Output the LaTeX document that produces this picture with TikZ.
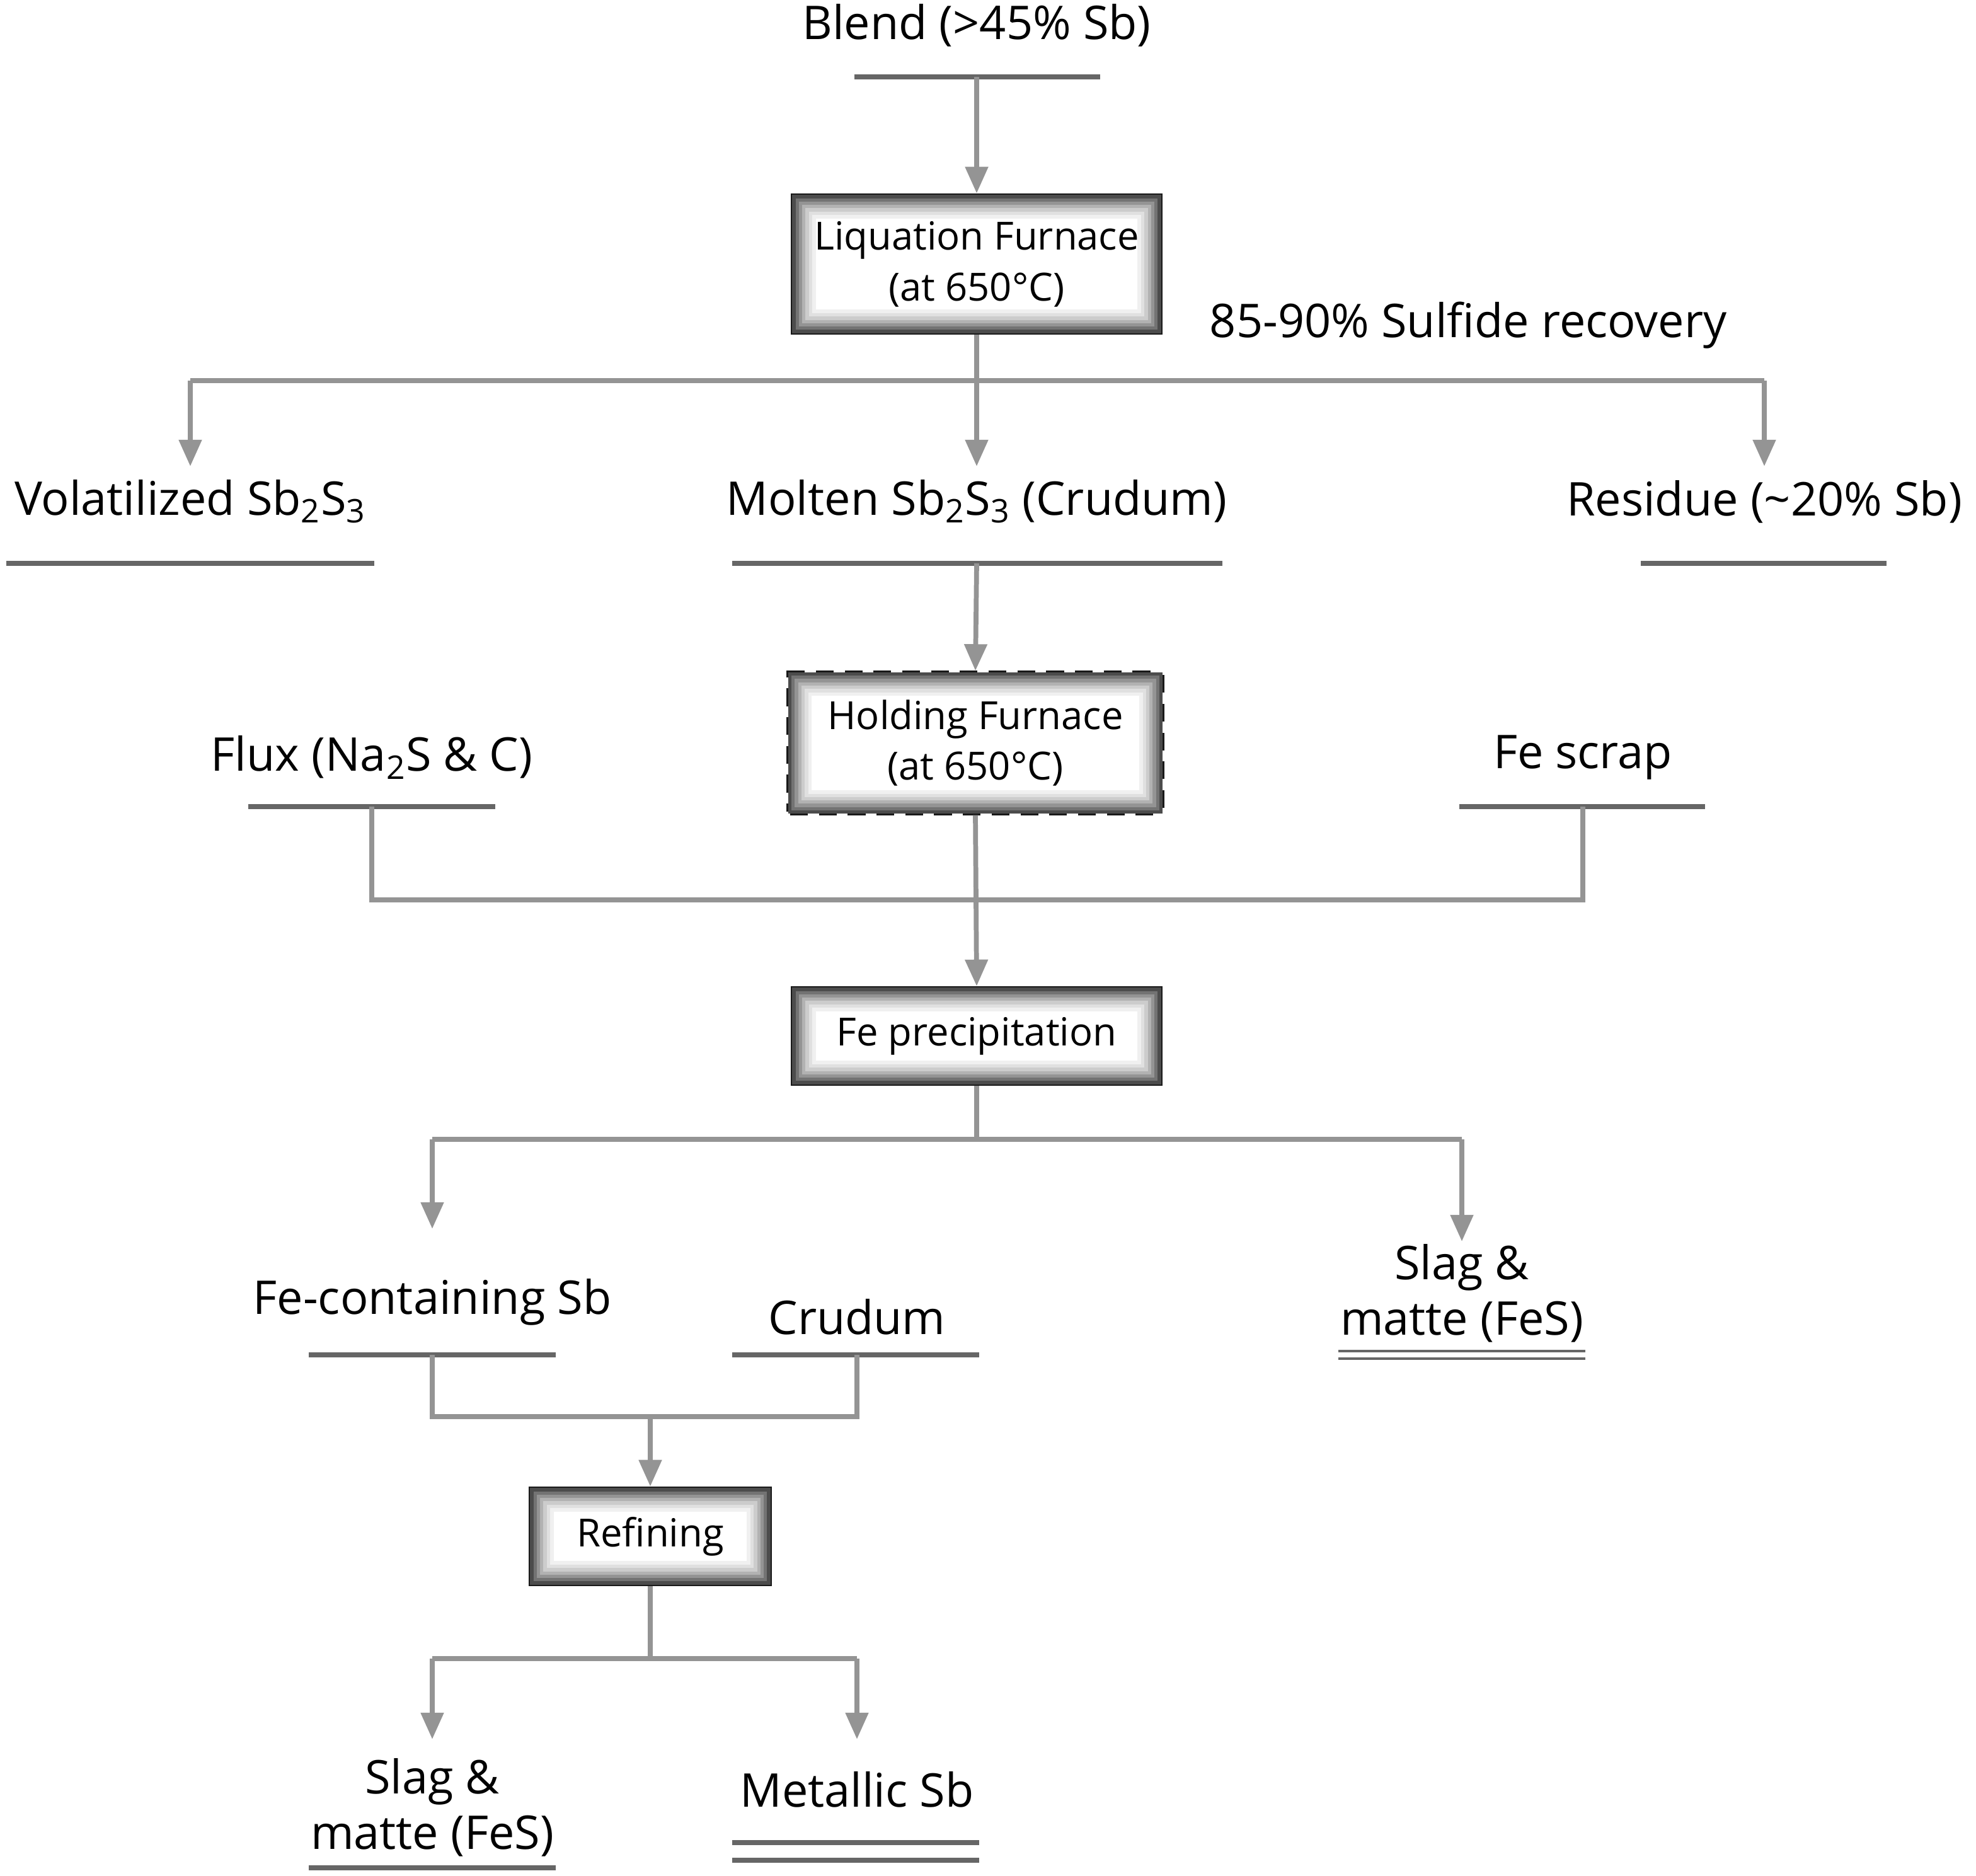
\documentclass[tikz,border=0pt]{standalone}
\usepackage{fontspec}
\setmainfont{Open Sans}
\usetikzlibrary{arrows.meta}
\newcommand{\glowbox}[1]{%
  \foreach \i/\c in {1/70,2/55,3/42,4/30,5/20,6/12,7/6}{%
    \draw[draw=black!\c,line width=1.6pt]
      ([xshift=\i*1.5pt,yshift=-\i*1.5pt]#1.north west) rectangle ([xshift=-\i*1.5pt,yshift=\i*1.5pt]#1.south east);}}
\begin{document}
\begin{tikzpicture}[x=0.02cm,y=-0.02cm,
  conn/.style={draw=gray!95!black!80,line width=2.2pt},
  arr/.style={conn,-{Triangle[length=12pt,width=10pt]}},
  ul/.style={draw=gray!80!black,line width=2.2pt},
  lab/.style={font=\fontsize{21}{25}\selectfont,inner sep=0pt,align=center},
  box/.style={draw=black!90,line width=1.8pt,fill=white,font=\fontsize{17.5}{23}\selectfont,align=center,inner sep=0pt},
  dbox/.style={box,dash pattern=on 8pt off 5pt,line width=3.2pt}]
\useasboundingbox (0,0) rectangle (1568,1488);
% top
\node[lab] (blend) at (775,20) {Blend (>45\% Sb)};
\draw[ul] (678,61) -- (873,61);
\coordinate (blendb) at (775,61);
\node[box,minimum width=5.84cm,minimum height=2.18cm] (liq) at (775,209.5) {Liquation Furnace\\(at 650°C)};
\glowbox{liq}
\draw[arr] (blendb) -- (liq.north);
\node[lab] (rec) at (1165,258) {85-90\% Sulfide recovery};
\coordinate (s1) at (775,302);
\coordinate (s1l) at (151,302);
\coordinate (s1r) at (1400,302);
\node[lab] (vol) at (151,398) {Volatilized Sb\textsubscript{2}S\textsubscript{3}};
\node[lab] (mol) at (775,398) {Molten Sb\textsubscript{2}S\textsubscript{3} (Crudum)};
\node[lab] (res) at (1400,398) {Residue (\textasciitilde20\% Sb)};
\draw[conn] (liq.south) -- (s1);
\draw[conn] (s1l) -- (s1r);
\draw[arr] (s1l) -- (151,370);
\draw[arr] (s1) -- (775,370);
\draw[arr] (s1r) -- (1400,370);
\draw[ul] (5,447) -- (297,447);
\draw[ul] (581,447) -- (970,447);
\draw[ul] (1302,447) -- (1497,447);
\coordinate (molb) at (775,447);
\node[dbox,minimum width=5.88cm,minimum height=2.18cm] (hold) at (774,589.5) {Holding Furnace\\(at 650°C)};
\glowbox{hold}
\draw[arr] (molb) -- (hold.north);
\node[lab] (flux) at (295,601) {Flux (Na\textsubscript{2}S \& C)};
\node[lab] (fe) at (1256,601) {Fe scrap};
\draw[ul] (197,640) -- (393,640);
\draw[ul] (1158,640) -- (1353,640);
\coordinate (fluxb) at (295,640);
\coordinate (feb) at (1256,640);
\node[box,minimum width=5.84cm,minimum height=1.52cm] (prec) at (775,822) {Fe precipitation};
\glowbox{prec}
\draw[conn] (fluxb) -- (295,714) -- (1256,714) -- (feb);
\draw[arr] (hold.south) -- (prec.north);
\coordinate (s2) at (775,904);
\draw[conn] (prec.south) -- (s2);
\draw[conn] (343,904) -- (1160,904);
\draw[arr] (343,904) -- (343,975);
\draw[arr] (1160,904) -- (1160,985);
\node[lab] (fcs) at (343,1033) {Fe-containing Sb};
\node[lab] (cru) at (680,1045) {Crudum};
\node[lab] (slag1) at (1160,1026) {Slag \&\\matte (FeS)};
\draw[ul] (245,1075) -- (441,1075);
\draw[ul] (581,1075) -- (777,1075);
\draw[ul,line width=1.4pt] (1062,1072) -- (1258,1072);
\draw[ul,line width=1.4pt] (1062,1078) -- (1258,1078);
\coordinate (fcsb) at (343,1075);
\coordinate (crub) at (680,1075);
\node[box,minimum width=3.8cm,minimum height=1.52cm] (ref) at (516,1219) {Refining};
\glowbox{ref}
\draw[conn] (fcsb) -- (343,1124) -- (680,1124) -- (crub);
\draw[arr] (516,1124) -- (ref.north);
\coordinate (s3) at (516,1316);
\draw[conn] (ref.south) -- (s3);
\draw[conn] (343,1316) -- (680,1316);
\draw[arr] (343,1316) -- (343,1380);
\draw[arr] (680,1316) -- (680,1380);
\node[lab] (slag2) at (343,1434) {Slag \&\\matte (FeS)};
\node[lab] (met) at (680,1420) {Metallic Sb};
\draw[ul] (245,1482) -- (441,1482);
\draw[ul] (581,1462) -- (777,1462);
\draw[ul] (581,1476) -- (777,1476);
\end{tikzpicture}
\end{document}
